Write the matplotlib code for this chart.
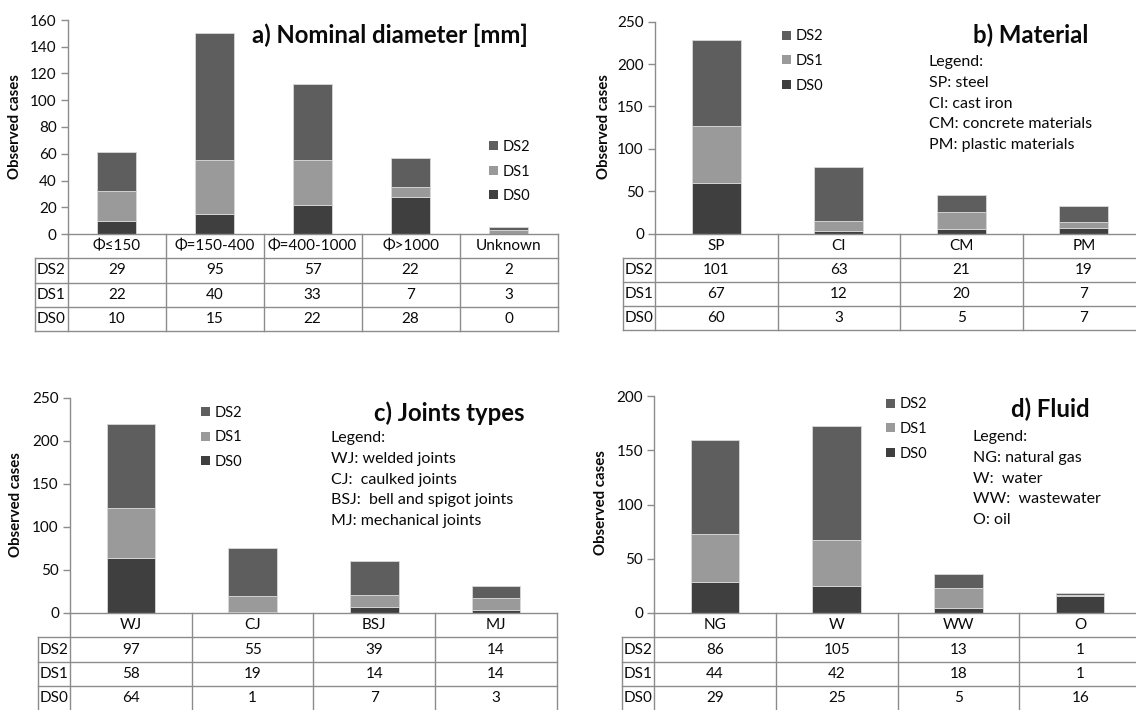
import matplotlib
matplotlib.use("Agg")
import matplotlib.pyplot as plt
from matplotlib.patches import Patch

plt.rcParams['font.family'] = ['Lato', 'DejaVu Sans']

# ---------------- data ----------------
series_names = ["DS2", "DS1", "DS0"]

cats_a = ["Φ≤150", "Φ=150-400", "Φ=400-1000", "Φ>1000", "Unknown"]
ds2_a = [29, 95, 57, 22, 2]
ds1_a = [22, 40, 33, 7, 3]
ds0_a = [10, 15, 22, 28, 0]

cats_b = ["SP", "CI", "CM", "PM"]
ds2_b = [101, 63, 21, 19]
ds1_b = [67, 12, 20, 7]
ds0_b = [60, 3, 5, 7]

cats_c = ["WJ", "CJ", "BSJ", "MJ"]
ds2_c = [97, 55, 39, 14]
ds1_c = [58, 19, 14, 14]
ds0_c = [64, 1, 7, 3]

cats_d = ["NG", "W", "WW", "O"]
ds2_d = [86, 105, 13, 1]
ds1_d = [44, 42, 18, 1]
ds0_d = [29, 25, 5, 16]

titles = ["a) Nominal diameter [mm]", "b) Material", "c) Joints types", "d) Fluid"]
notes_b = ["Legend:", "SP: steel", "CI: cast iron", "CM: concrete materials", "PM: plastic materials"]
notes_c = ["Legend:", "WJ: welded joints", "CJ:  caulked joints", "BSJ:  bell and spigot joints", "MJ: mechanical joints"]
notes_d = ["Legend:", "NG: natural gas", "W:  water", "WW:  wastewater", "O: oil"]
ylabel = "Observed cases"

# ---------------- style ----------------
W, H = 1136, 710
C2, C1, C0 = "#5e5e5e", "#9a9a9a", "#3f3f3f"
LINE = "#8c8c8c"
TXT = "#0a0a0a"
FS = 10

fig = plt.figure(figsize=(W / 100, H / 100), dpi=100)
fig.patch.set_facecolor("white")


def fx(x):
    return x / W


def fy(y):
    return 1 - y / H


def panel(cats, ds2, ds1, ds0, ymax, ystep, left, right, ytop, yzero,
          tab_left, tab_bottom, title, title_xy, leg_xy, notes, notes_xy,
          ylab_xy):
    n = len(cats)
    ax = fig.add_axes([fx(left), fy(yzero), fx(right) - fx(left), fy(ytop) - fy(yzero)])
    x = list(range(n))
    bw = 0.4
    ek = dict(edgecolor="#d9d9d9", linewidth=0.6)
    ax.bar(x, ds0, width=bw, color=C0, **ek)
    ax.bar(x, ds1, width=bw, bottom=ds0, color=C1, **ek)
    bot2 = [a + b for a, b in zip(ds0, ds1)]
    ax.bar(x, ds2, width=bw, bottom=bot2, color=C2, **ek)
    ax.set_xlim(-0.5, n - 0.5)
    ax.set_ylim(0, ymax)
    ax.set_yticks(list(range(0, ymax + 1, ystep)))
    ax.set_xticks([])
    for s in ["top", "right", "bottom"]:
        ax.spines[s].set_visible(False)
    ax.spines["left"].set_color(LINE)
    ax.spines["left"].set_linewidth(1.0)
    ax.tick_params(axis="y", direction="out", length=5, width=1.0, color=LINE,
                   labelsize=11, pad=3, labelcolor=TXT)
    ax.patch.set_alpha(0)

    # legend
    handles = [Patch(facecolor=C2), Patch(facecolor=C1), Patch(facecolor=C0)]
    leg = fig.legend(handles, series_names, loc="center left",
                     bbox_to_anchor=(fx(leg_xy[0]), fy(leg_xy[1])),
                     frameon=False, fontsize=10.5, handlelength=0.6, handleheight=0.6,
                     handletextpad=0.35, labelspacing=0.72, borderpad=0, borderaxespad=0)
    for t in leg.get_texts():
        t.set_color(TXT)

    # table
    tax = fig.add_axes([fx(tab_left), fy(tab_bottom), fx(right) - fx(tab_left),
                        fy(yzero) - fy(tab_bottom)])
    catw = (right - left) / n
    labw = (left - tab_left) / catw
    xl = -0.5 - labw
    tax.set_xlim(xl, n - 0.5)
    tax.set_ylim(4, 0)
    tax.axis("off")
    lk = dict(color=LINE, linewidth=1.0, clip_on=False, solid_capstyle="projecting")
    tax.plot([-0.5, n - 0.5], [0, 0], **lk)
    for r in range(1, 5):
        tax.plot([xl, n - 0.5], [r, r], **lk)
    tax.plot([xl, xl], [1, 4], **lk)
    for i in range(n + 1):
        tax.plot([i - 0.5, i - 0.5], [0, 4], **lk)
    for i, c in enumerate(cats):
        tax.text(i, 0.5, c, ha="center", va="center", fontsize=11, color=TXT)
    rows = [ds2, ds1, ds0]
    for r, (name, vals) in enumerate(zip(series_names, rows)):
        tax.text(xl + labw / 2, r + 1.5, name, ha="center", va="center",
                 fontsize=11, color=TXT)
        for i, v in enumerate(vals):
            tax.text(i, r + 1.5, str(v), ha="center", va="center",
                     fontsize=11, color=TXT)

    # title
    fig.text(fx(title_xy[0]), fy(title_xy[1]), title, ha="right", va="center",
             fontsize=17.2, fontweight="bold", color=TXT)
    # notes
    if notes:
        for k, line in enumerate(notes):
            fig.text(fx(notes_xy[0]), fy(notes_xy[1] + k * 20.8), line,
                     ha="left", va="center", fontsize=11.5, color=TXT)
    # ylabel
    fig.text(fx(ylab_xy[0]), fy(ylab_xy[1]), ylabel, rotation=90, ha="center",
             va="center", fontsize=10.8, fontweight="bold", color=TXT)


panel(cats_a, ds2_a, ds1_a, ds0_a, 160, 20, 67.7, 557.5, 20, 234,
      35, 331, titles[0], (528, 35), (489, 171.5), None, None, (15, 127))
panel(cats_b, ds2_b, ds1_b, ds0_b, 250, 50, 655, 1145, 21.7, 233.5,
      623.3, 330.3, titles[1], (1088, 35), (782, 61), notes_b, (929, 62), (604, 127))
panel(cats_c, ds2_c, ds1_c, ds0_c, 250, 50, 70, 556.7, 397.7, 613,
      37.7, 710.7, titles[2], (524, 413), (201, 437.5), notes_c, (331, 438), (16, 505))
panel(cats_d, ds2_d, ds1_d, ds0_d, 200, 50, 654.3, 1141, 396, 613,
      621.7, 710.7, titles[3], (1090, 409), (886, 429), notes_d, (973, 437), (601, 503))

fig.savefig("out.png", dpi=100, facecolor="white")
